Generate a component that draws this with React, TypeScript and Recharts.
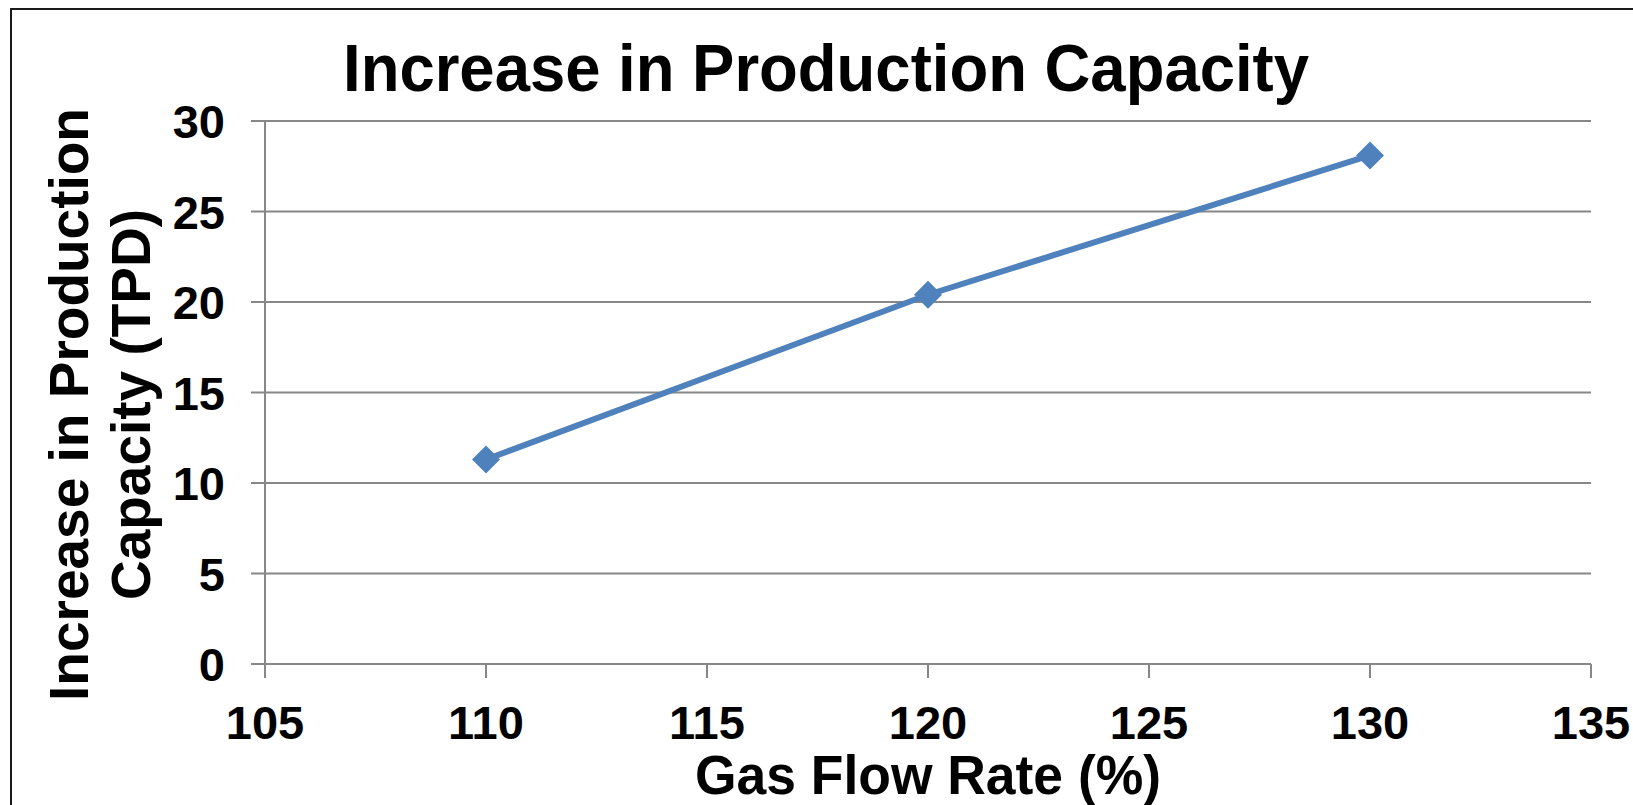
import React from 'react';
import { LineChart, Line, XAxis, YAxis, CartesianGrid } from 'recharts';

const flowRates = [110, 120, 130];
const capacityIncrease = [11.3, 20.4, 28.1];
const xTicks = [105, 110, 115, 120, 125, 130, 135];
const yTicks = [0, 5, 10, 15, 20, 25, 30];

const data = flowRates.map((flow, i) => ({ flow, increase: capacityIncrease[i] }));

const FONT = '"Liberation Sans", Arial, Helvetica, sans-serif';
const GRID = '#878787';
const BLUE = '#4F81BD';

const XTick = (props: any) => {
  const { x, y, payload } = props;
  return (
    <text x={x} y={y} dy={61} textAnchor="middle" fontFamily={FONT} fontWeight="bold" fontSize={47} fill="#000">
      {payload.value}
    </text>
  );
};

const YTick = (props: any) => {
  const { y, payload } = props;
  return (
    <text x={225} y={y} dy={17} textAnchor="end" fontFamily={FONT} fontWeight="bold" fontSize={47} fill="#000">
      {payload.value}
    </text>
  );
};

const Diamond = (props: any) => {
  const { cx, cy, index } = props;
  const r = 14;
  return (
    <path
      key={`d-${index}`}
      d={`M${cx},${cy - r}L${cx + r},${cy}L${cx},${cy + r}L${cx - r},${cy}Z`}
      fill={BLUE}
    />
  );
};

// two-line rotated title for the value axis
const YTitle = (props: any) => {
  const vb = props.viewBox || { x: 0, y: 121, width: 265, height: 543 };
  const cy = vb.y + vb.height / 2 + 12;
  const lines = [
    { text: 'Increase in Production', x: 88 },
    { text: 'Capacity (TPD)', x: 150 },
  ];
  return (
    <g>
      {lines.map((l) => (
        <text
          key={l.text}
          x={l.x}
          y={cy}
          transform={`rotate(-90, ${l.x}, ${cy})`}
          textAnchor="middle"
          fontFamily={FONT}
          fontWeight="bold"
          fontSize={55}
          fill="#000"
        >
          {l.text}
        </text>
      ))}
    </g>
  );
};

const XTitle = (props: any) => {
  const vb = props.viewBox || { x: 265, y: 664, width: 1326, height: 141 };
  return (
    <text
      x={vb.x + vb.width / 2}
      y={794}
      textAnchor="middle"
      fontFamily={FONT}
      fontWeight="bold"
      fontSize={55}
      textLength={466}
      lengthAdjust="spacingAndGlyphs"
      fill="#000"
    >
      Gas Flow Rate (%)
    </text>
  );
};

export default function App() {
  return (
    <div
      style={{
        position: 'absolute',
        left: 0,
        top: 0,
        width: 1633,
        height: 805,
        overflow: 'hidden',
        background: '#fff',
      }}
    >
      <div
        style={{
          position: 'absolute',
          left: 10,
          top: 8,
          width: 1700,
          height: 900,
          borderTop: '2px solid #1a1a1a',
          borderLeft: '2px solid #1a1a1a',
        }}
      />
      <svg width={1633} height={120} style={{ position: 'absolute', left: 0, top: 0 }}>
        <text
          x={826}
          y={91}
          textAnchor="middle"
          fontFamily={FONT}
          fontWeight="bold"
          fontSize={67}
          textLength={966}
          lengthAdjust="spacingAndGlyphs"
          fill="#000"
        >
          Increase in Production Capacity
        </text>
      </svg>
      <div style={{ position: 'absolute', left: 0, top: 0 }}>
        <LineChart width={1633} height={805} data={data} margin={{ top: 121, right: 42, bottom: 0, left: 0 }}>
          <CartesianGrid horizontal vertical={false} stroke={GRID} strokeWidth={2} />
          <XAxis
            type="number"
            dataKey="flow"
            domain={[105, 135]}
            ticks={xTicks}
            interval={0}
            height={141}
            tickSize={14}
            tickMargin={0}
            axisLine={{ stroke: GRID, strokeWidth: 2 }}
            tickLine={{ stroke: GRID, strokeWidth: 2 }}
            tick={<XTick />}
            label={{ content: <XTitle /> }}
          />
          <YAxis
            type="number"
            domain={[0, 30]}
            ticks={yTicks}
            interval={0}
            width={265}
            tickSize={14}
            tickMargin={0}
            axisLine={{ stroke: GRID, strokeWidth: 2 }}
            tickLine={{ stroke: GRID, strokeWidth: 2 }}
            tick={<YTick />}
            label={{ content: <YTitle /> }}
          />
          <Line
            type="linear"
            dataKey="increase"
            stroke={BLUE}
            strokeWidth={6}
            dot={Diamond}
            activeDot={false}
            isAnimationActive={false}
          />
        </LineChart>
      </div>
    </div>
  );
}
